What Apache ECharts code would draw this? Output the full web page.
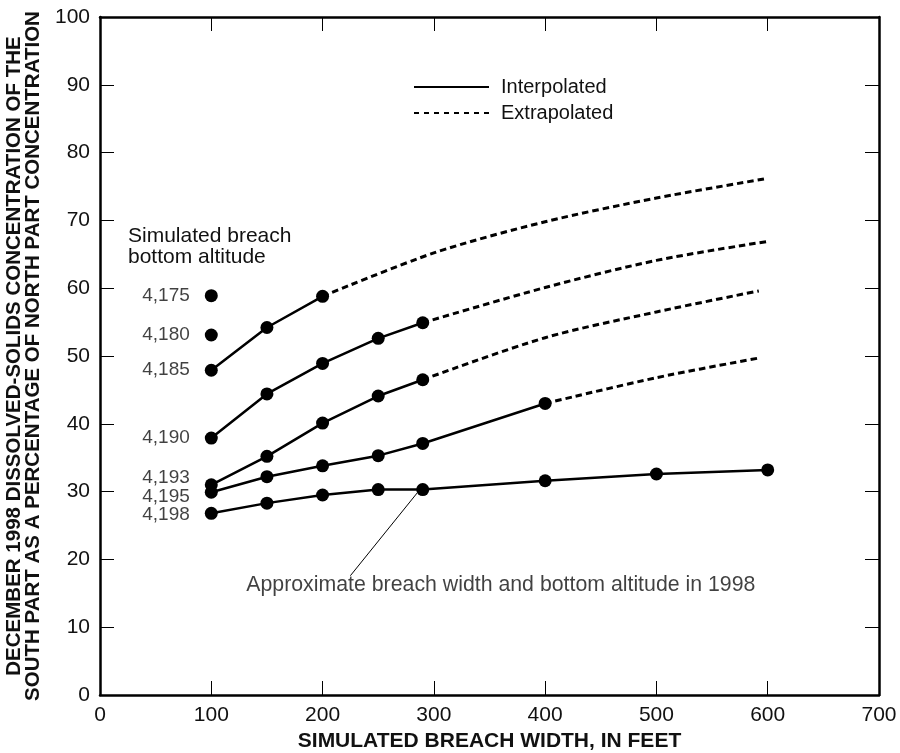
<!DOCTYPE html>
<html>
<head>
<meta charset="utf-8">
<script src="https://cdn.jsdelivr.net/npm/echarts@6/dist/echarts.min.js"></script>
<style>
    html, body { margin: 0; padding: 0; background: #fff; }
    #chart { width: 900px; height: 753px; }
</style>
</head>
<body>
<div id="chart"></div>
<script>
// 読み取った値 (x: breach width ft, y: %)
const xTicks = [0, 100, 200, 300, 400, 500, 600, 700];
const yTicks = [0, 10, 20, 30, 40, 50, 60, 70, 80, 90, 100];

// 実線 (interpolated)
const solid4185 = [[100, 47.9], [150, 54.2], [200, 58.8]];
const solid4190 = [[100, 37.9], [150, 44.4], [200, 48.9], [250, 52.6], [290, 54.9]];
const solid4193 = [[100, 31.0], [150, 35.2], [200, 40.1], [250, 44.1], [290, 46.5]];
const solid4195 = [[100, 29.9], [150, 32.2], [200, 33.8], [250, 35.3], [290, 37.1], [400, 43.0]];
const solid4198 = [[100, 26.8], [150, 28.3], [200, 29.5], [250, 30.3], [290, 30.3], [400, 31.6], [500, 32.6], [600, 33.2]];

// 点線 (extrapolated)
const dash4185 = [[200, 58.8], [300, 65.2], [400, 69.8], [500, 73.3], [600, 76.2]];
const dash4190 = [[290, 54.9], [400, 60.1], [500, 64.1], [600, 66.9]];
const dash4193 = [[290, 46.5], [400, 52.7], [500, 56.5], [592, 59.6]];
const dash4195 = [[400, 43.0], [500, 46.8], [592, 49.7]];

// 単独の点
const singlePoints = [[100, 58.9], [100, 53.1]];

// 高度ラベル
const altitudeNames = ['4,175', '4,180', '4,185', '4,190', '4,193', '4,195', '4,198'];
const altitudeLabelY = [58.9, 53.1, 47.9, 37.9, 32.1, 29.2, 26.6];

// 注記
const noteText = 'Approximate breach width and bottom altitude in 1998';
const notePos = [131, 16.2];
const leaderLine = [[285, 29.8], [225, 17.6]];

const FONT = '"Liberation Sans", Arial, sans-serif';

const chart = echarts.init(document.getElementById('chart'));

function solidSeries(data) {
    return {
        name: 'solid',
        type: 'line',
        data: data,
        symbol: 'circle',
        symbolSize: 13,
        showSymbol: true,
        itemStyle: { color: '#000', opacity: 1 },
        lineStyle: { color: '#000', width: 2.5 },
        z: 3
    };
}

function dashSeries(data) {
    return {
        name: 'dash',
        type: 'line',
        data: data,
        symbol: 'none',
        smooth: 0.3,
        lineStyle: { color: '#000', width: 3, type: [6.5, 4] },
        z: 2
    };
}

// 枠線用の軸設定
const frameLine = { show: true, onZero: false, lineStyle: { color: '#000', width: 2.5 } };
const frameTick = { show: true, inside: true, length: 14, lineStyle: { color: '#000', width: 1 } };

const option = {
    animation: false,
    backgroundColor: '#fff',
    textStyle: { fontFamily: FONT, color: '#000' },
    title: {
        text: 'Simulated breach\nbottom altitude',
        left: 128,
        top: 226,
        padding: 0,
        textStyle: { fontFamily: FONT, fontSize: 21, fontWeight: 'normal', color: '#111', lineHeight: 21 }
    },
    legend: {
        data: ['Interpolated', 'Extrapolated'],
        orient: 'vertical',
        left: 413,
        top: 77,
        itemWidth: 75,
        itemHeight: 14,
        itemGap: 6,
        padding: 0,
        itemStyle: { opacity: 0 },
        textStyle: { fontFamily: FONT, fontSize: 20, color: '#111', padding: [0, 0, 0, 7] }
    },
    grid: { left: 100, right: 21, top: 17, bottom: 58, outerBoundsMode: 'none' },
    xAxis: [
        {
            type: 'value',
            min: xTicks[0],
            max: xTicks[xTicks.length - 1],
            interval: 100,
            name: 'SIMULATED BREACH WIDTH, IN FEET',
            nameLocation: 'middle',
            nameGap: 36,
            nameTextStyle: { fontFamily: FONT, fontSize: 21, fontWeight: 'bold', color: '#111' },
            axisLine: frameLine,
            axisTick: frameTick,
            axisLabel: { fontFamily: FONT, fontSize: 21, color: '#111', margin: 10 },
            splitLine: { show: false }
        },
        {
            type: 'value',
            position: 'top',
            min: xTicks[0],
            max: xTicks[xTicks.length - 1],
            interval: 100,
            axisLine: frameLine,
            axisTick: frameTick,
            axisLabel: { show: false },
            splitLine: { show: false }
        }
    ],
    yAxis: [
        {
            type: 'value',
            min: yTicks[0],
            max: yTicks[yTicks.length - 1],
            interval: 10,
            name: 'DECEMBER 1998 DISSOLVED-SOLIDS CONCENTRATION OF THE\nSOUTH PART AS A PERCENTAGE OF NORTH PART CONCENTRATION',
            nameLocation: 'middle',
            nameGap: 47,
            nameTextStyle: { fontFamily: FONT, fontSize: 20.5, fontWeight: 'bold', color: '#111', lineHeight: 19 },
            axisLine: frameLine,
            axisTick: frameTick,
            axisLabel: { fontFamily: FONT, fontSize: 21, color: '#111', margin: 10 },
            splitLine: { show: false }
        },
        {
            type: 'value',
            position: 'right',
            min: yTicks[0],
            max: yTicks[yTicks.length - 1],
            interval: 10,
            axisLine: frameLine,
            axisTick: frameTick,
            axisLabel: { show: false },
            splitLine: { show: false }
        }
    ],
    series: [
        // 凡例用
        {
            name: 'Interpolated',
            type: 'line',
            data: [],
            symbol: 'none',
            lineStyle: { color: '#000', width: 2.5 },
            itemStyle: { color: '#000' }
        },
        {
            name: 'Extrapolated',
            type: 'line',
            data: [],
            symbol: 'none',
            lineStyle: { color: '#000', width: 2.5, type: [5, 5] },
            itemStyle: { color: '#000' }
        },
        dashSeries(dash4185),
        dashSeries(dash4190),
        dashSeries(dash4193),
        dashSeries(dash4195),
        solidSeries(solid4185),
        solidSeries(solid4190),
        solidSeries(solid4193),
        solidSeries(solid4195),
        solidSeries(solid4198),
        {
            name: 'single',
            type: 'scatter',
            data: singlePoints,
            symbolSize: 13,
            itemStyle: { color: '#000', opacity: 1 },
            z: 3
        },
        {
            name: 'altitudes',
            type: 'scatter',
            data: altitudeLabelY.map((y, i) => ({ value: [100, y], name: altitudeNames[i] })),
            symbolSize: 1,
            itemStyle: { color: 'rgba(0,0,0,0)' },
            label: {
                show: true,
                position: 'left',
                distance: 21,
                formatter: p => p.name,
                fontFamily: FONT,
                fontSize: 19,
                color: '#111'
            },
            silent: true
        },
        {
            name: 'leader',
            type: 'line',
            data: leaderLine,
            symbol: 'none',
            lineStyle: { color: '#000', width: 1 },
            z: 1
        },
        {
            name: 'note',
            type: 'scatter',
            data: [{ value: notePos, name: noteText }],
            symbolSize: 1,
            itemStyle: { color: 'rgba(0,0,0,0)' },
            label: {
                show: true,
                position: 'right',
                distance: 0,
                formatter: p => p.name,
                fontFamily: FONT,
                fontSize: 21.3,
                color: '#111'
            },
            silent: true
        }
    ]
};

chart.setOption(option);

window.addEventListener('resize', function () {
    chart.resize();
});
</script>
</body>
</html>
